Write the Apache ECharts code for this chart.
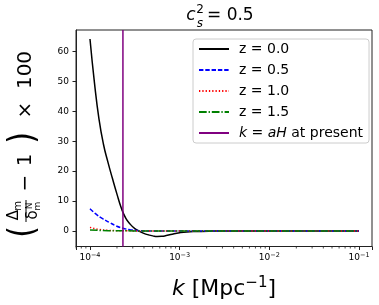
<!DOCTYPE html>
<html><head><meta charset="utf-8">
<script src="https://cdn.jsdelivr.net/npm/echarts@6/dist/echarts.min.js"></script>
<style>html,body{margin:0;padding:0;background:#fff}#c{width:379px;height:305px}</style>
</head><body><div id="c"></div>
<script>
// ---- data ----
const kBlack = [1e-4, 1.122e-4, 1.259e-4, 1.413e-4, 1.585e-4, 1.778e-4, 1.995e-4, 2.239e-4, 2.512e-4, 2.818e-4, 3.162e-4, 3.548e-4, 3.981e-4, 4.467e-4, 5.012e-4, 5.623e-4, 6.31e-4, 7.079e-4, 7.943e-4, 1e-3, 1.413e-3, 2.512e-3, 5.012e-3, 1e-2, 3.162e-2, 1e-1];
const vBlack = [64.2, 49.5, 37.5, 29.0, 23.0, 17.6, 12.4, 7.6, 4.2, 2.2, 0.8, -0.1, -0.8, -1.3, -1.65, -1.85, -1.8, -1.55, -1.2, -0.6, -0.2, -0.05, 0, 0, 0, 0];
const kBlue = [1.0e-4, 1.17e-4, 1.38e-4, 1.66e-4, 1.95e-4, 2.32e-4, 2.82e-4, 3.55e-4, 5e-4, 1e-3, 1e-2, 1e-1];
const vBlue = [7.4, 5.6, 4.1, 2.8, 1.7, 0.9, 0.4, 0.1, 0, 0, 0, 0];
const kRed = [1.0e-4, 1.12e-4, 1.26e-4, 1.58e-4, 2.5e-4, 5e-4, 1e-3, 1e-2, 1e-1];
const vRed = [1.2, 0.8, 0.5, 0.2, 0.05, 0, 0, 0, 0];
const kGreen = [1.0e-4, 1.58e-4, 3.16e-4, 1e-3, 1e-2, 1e-1];
const vGreen = [0.3, 0.1, 0.02, 0, 0, 0];
const kAH = 2.33e-4;
const xRange = [Math.pow(10, -4.156), Math.pow(10, -0.855)];
const yRange = [-5.2, 67.2];
const xTickExponents = [-4, -3, -2, -1];
const xMinorTicks = [7e-5, 8e-5, 9e-5,
  2e-4, 3e-4, 4e-4, 5e-4, 6e-4, 7e-4, 8e-4, 9e-4,
  2e-3, 3e-3, 4e-3, 5e-3, 6e-3, 7e-3, 8e-3, 9e-3,
  2e-2, 3e-2, 4e-2, 5e-2, 6e-2, 7e-2, 8e-2, 9e-2];
const yTickValues = [0, 10, 20, 30, 40, 50, 60];
const seriesNames = ['z = 0.0', 'z = 0.5', 'z = 1.0', 'z = 1.5', 'k = aH at present'];

const F = 'DejaVu Sans';
const pairs = (ks, vs) => ks.map((k, i) => [k, vs[i]]);
const chart = echarts.init(document.getElementById('c'), null, {renderer: 'canvas'});

const txt = (x, y, text, size, extra) => Object.assign({type: 'text', x: x, y: y,
  style: Object.assign({text: text, fontSize: size, fontFamily: F, fill: '#000', align: 'center', verticalAlign: 'middle'}, (extra && extra.style) || {})},
  (extra && extra.el) || {});

const option = {
  animation: false,
  backgroundColor: '#fff',
  grid: {left: 76, right: 7, top: 30, bottom: 52, show: true, borderColor: '#222', borderWidth: 1, backgroundColor: 'transparent'},
  xAxis: {
    type: 'log', logBase: 10, min: xRange[0], max: xRange[1],
    axisLine: {show: true, onZero: false, lineStyle: {color: '#222', width: 1}},
    axisTick: {show: true, length: 3.5, lineStyle: {color: '#222'}},
    splitLine: {show: false},
    axisLabel: {
      margin: 5, fontFamily: F, color: '#000',
      formatter: function (v) {
        const e = Math.log10(v);
        const r = Math.round(e);
        if (Math.abs(e - r) > 0.01 || xTickExponents.indexOf(r) < 0) return '';
        return '{b|10}{s|\u2212' + Math.abs(r) + '}';
      },
      rich: {b: {fontSize: 9, fontFamily: F, color: '#000'}, s: {fontSize: 6.5, fontFamily: F, color: '#000', padding: [0, 0, 6, 0]}}
    },
    name: '{i|k} [Mpc{s|\u22121}]', nameLocation: 'middle', nameGap: 29,
    nameTextStyle: {fontSize: 22, fontFamily: F, color: '#000',
      rich: {i: {fontSize: 22, fontStyle: 'italic', fontFamily: F, color: '#000'},
             s: {fontSize: 15, fontFamily: F, color: '#000', padding: [0, 0, 12, 0]}}}
  },
  yAxis: {
    type: 'value', min: yRange[0], max: yRange[1], splitNumber: 7,
    axisLine: {show: true, onZero: false, lineStyle: {color: '#222', width: 1}},
    axisTick: {show: true, length: 3.5, lineStyle: {color: '#222'}},
    splitLine: {show: false},
    axisLabel: {margin: 7, fontSize: 9, fontFamily: F, color: '#000', showMinLabel: false, showMaxLabel: false,
      formatter: v => (yTickValues.indexOf(Math.round(v)) >= 0 && Math.abs(v - Math.round(v)) < 1e-6) ? String(Math.round(v)) : ''}
  },
  legend: {
    show: true, orient: 'vertical', left: 193, top: 39, itemWidth: 30, itemHeight: 14, itemGap: 7,
    padding: [3, 6, 3, 5], borderColor: '#ccc', borderWidth: 1, borderRadius: 3, backgroundColor: 'rgba(255,255,255,0.8)',
    itemStyle: {opacity: 0},
    data: seriesNames,
    formatter: function (n) { return n === seriesNames[4] ? '{i|k} = {i|aH} at present' : n; },
    textStyle: {fontSize: 14, fontFamily: F, color: '#000', padding: [0, 0, 0, 5],
      rich: {i: {fontSize: 14, fontFamily: F, fontStyle: 'italic', color: '#000'}}}
  },
  series: [
    {name: seriesNames[0], type: 'line', data: pairs(kBlack, vBlack), symbol: 'none', smooth: 0.5,
      lineStyle: {color: '#000', width: 1.5}, itemStyle: {color: '#000'}},
    {name: seriesNames[1], type: 'line', data: pairs(kBlue, vBlue), symbol: 'none', smooth: 0.4,
      lineStyle: {color: '#0000ff', width: 1.5, type: [4.4, 1.9]}, itemStyle: {color: '#0000ff'}},
    {name: seriesNames[2], type: 'line', data: pairs(kRed, vRed), symbol: 'none', smooth: 0.4,
      lineStyle: {color: '#ff0000', width: 1.5, type: [1.3, 2]}, itemStyle: {color: '#ff0000'}},
    {name: seriesNames[3], type: 'line', data: pairs(kGreen, vGreen), symbol: 'none', smooth: 0.4,
      lineStyle: {color: '#008000', width: 1.5, type: [7.7, 1.9, 1.3, 1.9]}, itemStyle: {color: '#008000'}},
    {name: seriesNames[4], type: 'line', data: [[kAH, yRange[0]], [kAH, yRange[1]]], symbol: 'none',
      lineStyle: {color: '#800080', width: 1.5}, itemStyle: {color: '#800080'}},
    {name: 'minorTicks', type: 'custom', silent: true, clip: false,
      data: xMinorTicks.map(v => [v, yRange[0]]),
      renderItem: function (params, api) {
        const p = api.coord([api.value(0), api.value(1)]);
        return {type: 'line', shape: {x1: p[0], y1: p[1], x2: p[0], y2: p[1] + 2}, style: {stroke: '#222', lineWidth: 0.8}};
      }}
  ],
  graphic: [
    {type: 'group', x: 0, y: 0, children: [
      txt(191, 16, 'c', 17, {style: {fontStyle: 'italic'}}),
      txt(200, 10, '2', 12),
      txt(200, 24, 's', 12, {style: {fontStyle: 'italic'}}),
      txt(207, 16, '= 0.5', 17, {style: {align: 'left'}})
    ]},
    {type: 'group', x: 33, y: 240, rotation: Math.PI / 2, children: [
      txt(8, -9, '(', 20, {el: {scaleX: 1.5, scaleY: 1.8}}),
      txt(25, -19, '\u0394', 15),
      txt(34, -15, 'm', 10),
      {type: 'line', shape: {x1: 18, y1: -7, x2: 40, y2: -7}, style: {stroke: '#000', lineWidth: 1}},
      txt(25, 0, '\u03b4', 15),
      txt(34, -3, 'N', 9),
      txt(34, 5, 'm', 9),
      txt(57, -7, '\u2212', 20),
      txt(80, -7, '1', 20),
      txt(102, -9, ')', 20, {el: {scaleX: 1.5, scaleY: 1.8}}),
      txt(130, -7, '\u00d7', 20),
      txt(170, -7, '100', 20)
    ]}
  ]
};
chart.setOption(option);
</script>
</body></html>
